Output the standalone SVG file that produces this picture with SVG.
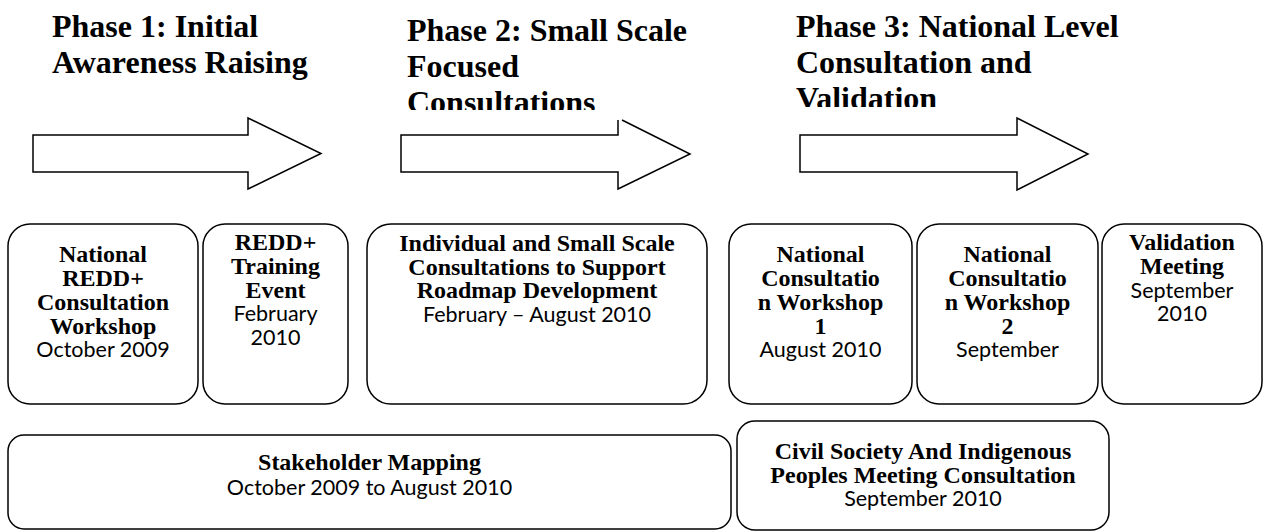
<svg xmlns="http://www.w3.org/2000/svg" width="1268" height="531" viewBox="0 0 1268 531">
<style>
.bg{fill:#ffffff}
.box{fill:#ffffff;stroke:#000000;stroke-width:1.5}
.arr{fill:#ffffff;stroke:#000000;stroke-width:1.5;stroke-linejoin:miter}
.ph{font-family:"Liberation Serif","Times New Roman",serif;font-weight:bold;font-size:32px;fill:#000000}
.t{font-family:"Liberation Serif","Times New Roman",serif;font-weight:bold;font-size:24px;fill:#000000;text-anchor:middle}
.d{font-family:Lato,"Liberation Sans",sans-serif;font-size:21.5px;fill:#000000;text-anchor:middle}
</style>
<defs>
<clipPath id="clip2"><rect x="395" y="0" width="320" height="110"/></clipPath>
<clipPath id="clip3"><rect x="785" y="0" width="360" height="107"/></clipPath>
</defs>
<rect class="bg" x="0" y="0" width="1268" height="531"/>

<g id="phase1-title">
<text class="ph" x="52" y="37">Phase 1: Initial</text>
<text class="ph" x="52" y="73">Awareness Raising</text>
</g>
<g id="phase2-title" clip-path="url(#clip2)">
<text class="ph" x="407" y="41">Phase 2: Small Scale</text>
<text class="ph" x="407" y="77">Focused</text>
<text class="ph" x="407" y="113">Consultations</text>
</g>
<g id="phase3-title" clip-path="url(#clip3)">
<text class="ph" x="796" y="37">Phase 3: National Level</text>
<text class="ph" x="796" y="73">Consultation and</text>
<text class="ph" x="796" y="109">Validation</text>
</g>

<g id="connectors">
<polygon class="arr" points="33,135 248,135 248,118 321,153.5 248,189 248,172 33,172"/>
<path class="arr" d="M618,120 L618,135 L401,135 L401,172 L618,172 L618,189 L690,154 L622,120"/>
<polygon class="arr" points="800,135 1017,135 1017,118 1088,154 1017,190 1017,172 800,172"/>
</g>

<g id="node-national-redd-workshop">
<rect class="box" x="8" y="224" width="190" height="180" rx="22" ry="22"/>
<text class="t" x="103" y="262">National</text>
<text class="t" x="103" y="286">REDD+</text>
<text class="t" x="103" y="310">Consultation</text>
<text class="t" x="103" y="334">Workshop</text>
<text class="d" x="103" y="357">October 2009</text>
</g>

<g id="node-redd-training">
<rect class="box" x="203" y="224" width="145" height="180" rx="22" ry="22"/>
<text class="t" x="275.5" y="250">REDD+</text>
<text class="t" x="275.5" y="274">Training</text>
<text class="t" x="275.5" y="298">Event</text>
<text class="d" x="275.5" y="321">February</text>
<text class="d" x="275.5" y="345">2010</text>
</g>

<g id="node-small-scale">
<rect class="box" x="367" y="224" width="340" height="180" rx="24" ry="24"/>
<text class="t" x="537" y="251">Individual and Small Scale</text>
<text class="t" x="537" y="275">Consultations to Support</text>
<text class="t" x="537" y="298">Roadmap Development</text>
<text class="d" x="537" y="322">February – August 2010</text>
</g>

<g id="node-workshop-1">
<rect class="box" x="729" y="224" width="183" height="180" rx="22" ry="22"/>
<text class="t" x="820.5" y="262">National</text>
<text class="t" x="820.5" y="286">Consultatio</text>
<text class="t" x="820.5" y="310">n Workshop</text>
<text class="t" x="820.5" y="334">1</text>
<text class="d" x="820.5" y="357">August 2010</text>
</g>

<g id="node-workshop-2">
<rect class="box" x="917" y="224" width="181" height="180" rx="22" ry="22"/>
<text class="t" x="1007.5" y="262">National</text>
<text class="t" x="1007.5" y="286">Consultatio</text>
<text class="t" x="1007.5" y="310">n Workshop</text>
<text class="t" x="1007.5" y="334">2</text>
<text class="d" x="1007.5" y="357">September</text>
</g>

<g id="node-validation">
<rect class="box" x="1102" y="224" width="160" height="180" rx="22" ry="22"/>
<text class="t" x="1182" y="250">Validation</text>
<text class="t" x="1182" y="274">Meeting</text>
<text class="d" x="1182" y="298">September</text>
<text class="d" x="1182" y="321">2010</text>
</g>

<g id="node-stakeholder-mapping">
<rect class="box" x="8" y="435" width="723" height="94" rx="16" ry="16"/>
<text class="t" x="369.5" y="470">Stakeholder Mapping</text>
<text class="d" x="369.5" y="495">October 2009 to August 2010</text>
</g>

<g id="node-civil-society">
<rect class="box" x="737" y="421" width="372" height="109" rx="18" ry="18"/>
<text class="t" x="923" y="459">Civil Society And Indigenous</text>
<text class="t" x="923" y="483">Peoples Meeting Consultation</text>
<text class="d" x="923" y="506">September 2010</text>
</g>
</svg>
